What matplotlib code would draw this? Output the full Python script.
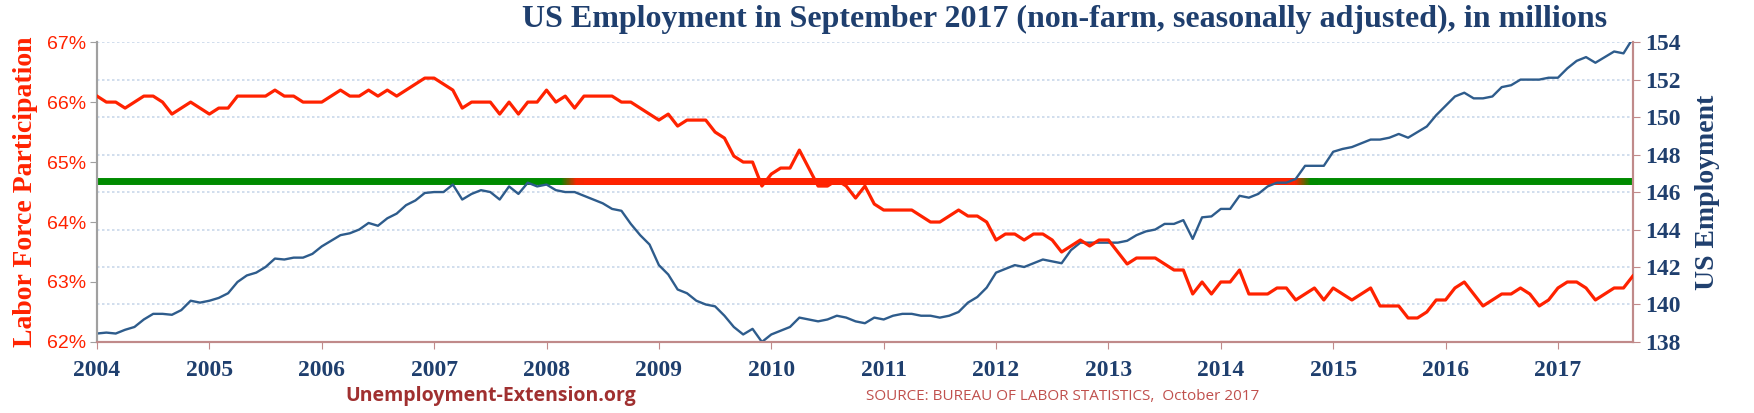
import numpy as np
import matplotlib
matplotlib.use("Agg")
import matplotlib.pyplot as plt
from matplotlib.collections import LineCollection
from matplotlib.colors import to_rgb

start_year = 2004
participation = [
    66.1, 66.0, 66.0, 65.9, 66.0, 66.1, 66.1, 66.0, 65.8, 65.9, 66.0, 65.9,
    65.8, 65.9, 65.9, 66.1, 66.1, 66.1, 66.1, 66.2, 66.1, 66.1, 66.0, 66.0,
    66.0, 66.1, 66.2, 66.1, 66.1, 66.2, 66.1, 66.2, 66.1, 66.2, 66.3, 66.4,
    66.4, 66.3, 66.2, 65.9, 66.0, 66.0, 66.0, 65.8, 66.0, 65.8, 66.0, 66.0,
    66.2, 66.0, 66.1, 65.9, 66.1, 66.1, 66.1, 66.1, 66.0, 66.0, 65.9, 65.8,
    65.7, 65.8, 65.6, 65.7, 65.7, 65.7, 65.5, 65.4, 65.1, 65.0, 65.0, 64.6,
    64.8, 64.9, 64.9, 65.2, 64.9, 64.6, 64.6, 64.7, 64.6, 64.4, 64.6, 64.3,
    64.2, 64.2, 64.2, 64.2, 64.1, 64.0, 64.0, 64.1, 64.2, 64.1, 64.1, 64.0,
    63.7, 63.8, 63.8, 63.7, 63.8, 63.8, 63.7, 63.5, 63.6, 63.7, 63.6, 63.7,
    63.7, 63.5, 63.3, 63.4, 63.4, 63.4, 63.3, 63.2, 63.2, 62.8, 63.0, 62.8,
    63.0, 63.0, 63.2, 62.8, 62.8, 62.8, 62.9, 62.9, 62.7, 62.8, 62.9, 62.7,
    62.9, 62.8, 62.7, 62.8, 62.9, 62.6, 62.6, 62.6, 62.4, 62.4, 62.5, 62.7,
    62.7, 62.9, 63.0, 62.8, 62.6, 62.7, 62.8, 62.8, 62.9, 62.8, 62.6, 62.7,
    62.9, 63.0, 63.0, 62.9, 62.7, 62.8, 62.9, 62.9, 63.1,
]
employment = [
    138.45, 138.5, 138.45, 138.65, 138.8, 139.2, 139.5, 139.5, 139.45, 139.7, 140.2, 140.1,
    140.2, 140.35, 140.6, 141.2, 141.55, 141.7, 142.0, 142.45, 142.4, 142.5, 142.5, 142.7,
    143.1, 143.4, 143.7, 143.8, 144.0, 144.35, 144.2, 144.6, 144.85, 145.3, 145.55, 145.95,
    146.0, 146.0, 146.4, 145.6, 145.9, 146.1, 146.0, 145.6, 146.3, 145.9, 146.5, 146.3,
    146.4, 146.1, 146.0, 146.0, 145.8, 145.6, 145.4, 145.1, 145.0, 144.3, 143.7, 143.2,
    142.1, 141.6, 140.8, 140.6, 140.2, 140.0, 139.9, 139.4, 138.8, 138.4, 138.7, 138.0,
    138.4, 138.6, 138.8, 139.3, 139.2, 139.1, 139.2, 139.4, 139.3, 139.1, 139.0, 139.3,
    139.2, 139.4, 139.5, 139.5, 139.4, 139.4, 139.3, 139.4, 139.6, 140.1, 140.4, 140.9,
    141.7, 141.9, 142.1, 142.0, 142.2, 142.4, 142.3, 142.2, 142.9, 143.3, 143.3, 143.3,
    143.3, 143.3, 143.4, 143.7, 143.9, 144.0, 144.3, 144.3, 144.5, 143.5, 144.65, 144.7,
    145.1, 145.1, 145.8, 145.7, 145.9, 146.3, 146.5, 146.5, 146.7, 147.4, 147.4, 147.4,
    148.15, 148.3, 148.4, 148.6, 148.8, 148.8, 148.9, 149.1, 148.9, 149.2, 149.5, 150.1,
    150.6, 151.1, 151.3, 151.0, 151.0, 151.1, 151.6, 151.7, 152.0, 152.0, 152.0, 152.1,
    152.1, 152.6, 153.0, 153.2, 152.9, 153.2, 153.5, 153.4, 154.2,
]
peak_level = 146.6           # pre-recession employment peak (band)
deficit_start = 2008.30      # band turns red
deficit_end = 2014.68        # band turns green again
year_ticks = list(range(2004, 2018))
left_ticks = [62, 63, 64, 65, 66, 67]
right_ticks = [138, 140, 142, 144, 146, 148, 150, 152, 154]

t = start_year + np.arange(len(employment)) / 12.0

NAVY = "#1F3F6E"
RED = "#FF2200"
BLUE = "#2E5C8C"
GREEN = "#008A00"
BROWN = "#C08A8A"

fig = plt.figure(figsize=(17.54, 4.13), dpi=100)
ax = fig.add_axes([0.0553, 0.172, 0.8757, 0.726])
ax2 = ax.twinx()

ax.set_xlim(2004, t[-1] + 0.001)
ax.set_ylim(62, 67)
ax2.set_ylim(138, 154)

for v in right_ticks:
    ax2.axhline(v, color="#C9D8EA", lw=1.2, ls=(0, (1.5, 1.5)), zorder=0)

# band: solid green, red section on top with short colour fades at its ends
fade = 0.15
ax2.plot([2004, t[-1]], [peak_level, peak_level], color=GREEN, lw=5,
         solid_capstyle="butt", zorder=2)
ax2.plot([deficit_start, deficit_end], [peak_level, peak_level], color=RED, lw=5,
         solid_capstyle="butt", zorder=2.1)
g, r = np.array(to_rgb(GREEN)), np.array(to_rgb(RED))
for x0, x1, rev in ((deficit_start - fade, deficit_start, False),
                    (deficit_end, deficit_end + fade, True)):
    xs = np.linspace(x0, x1, 30)
    fr = np.linspace(0, 1, 29)
    if rev:
        fr = fr[::-1]
    segs = [[(xs[i], peak_level), (xs[i + 1], peak_level)] for i in range(29)]
    cols = [tuple(g + (r - g) * f) for f in fr]
    ax2.add_collection(LineCollection(segs, colors=cols, linewidths=5, zorder=2.2,
                                      capstyle="projecting", antialiaseds=False))

ax2.plot(t, employment, color=BLUE, lw=1.7, zorder=3)
ax.plot(t, participation, color=RED, lw=2.3, zorder=4)
ax.set_zorder(ax2.get_zorder() + 1)
ax.patch.set_visible(False)

ax.set_xticks(year_ticks)
ax.set_xticklabels([str(y) for y in year_ticks], fontfamily="Liberation Serif",
                   fontweight="bold", fontsize=17, color=NAVY)
ax.set_yticks(left_ticks)
ax.set_yticklabels([f"{v}%" for v in left_ticks], fontfamily="Liberation Sans",
                   fontsize=14, color=RED)
ax2.set_yticks(right_ticks)
ax2.set_yticklabels([str(v) for v in right_ticks], fontfamily="Liberation Serif",
                    fontweight="bold", fontsize=17, color=NAVY)
ax.tick_params(axis="x", length=5, color=BROWN, pad=8)
ax.tick_params(axis="y", length=5, color="#A0A0A0", pad=3)
ax2.tick_params(axis="y", length=5, color=BROWN, pad=4)

for a in (ax, ax2):
    a.spines["top"].set_visible(False)
    a.spines["left"].set_color("#A0A0A0")
    a.spines["bottom"].set_color(BROWN)
    a.spines["right"].set_color(BROWN)
    for s in a.spines.values():
        s.set_linewidth(1.5)

ax.set_ylabel("Labor Force Participation", fontfamily="Liberation Serif",
              fontweight="bold", fontsize=20, color=RED, labelpad=6)
ax2.set_ylabel("US Employment", fontfamily="Liberation Serif",
               fontweight="bold", fontsize=20, color=NAVY, labelpad=10)

fig.text(0.607, 0.952, "US Employment in September 2017 (non-farm, seasonally adjusted), in millions",
         ha="center", va="center", fontfamily="Liberation Serif", fontweight="bold",
         fontsize=23, color=NAVY)
fig.text(0.28, 0.04, "Unemployment-Extension.org", ha="center", va="center",
         fontfamily="Open Sans", fontweight="bold", fontsize=14, color="#A03030")
fig.text(0.606, 0.04, "SOURCE: BUREAU OF LABOR STATISTICS,  October 2017", ha="center",
         va="center", fontfamily="Open Sans", fontsize=11, color="#C0504D")

fig.savefig("out.png", dpi=100)
